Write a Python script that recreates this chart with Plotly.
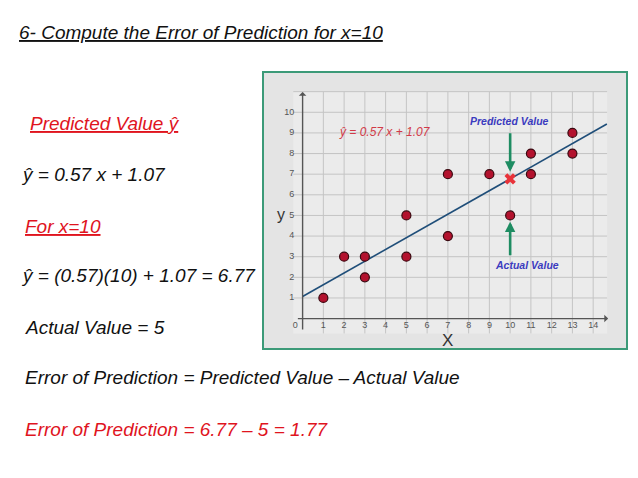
import plotly.graph_objects as go

W, H = 638, 478
OFF = 8  # page body margin

# ---- data ----
pts_x = [1, 2, 3, 3, 5, 5, 7, 7, 9, 10, 11, 11, 13, 13]
pts_y = [1, 3, 3, 2, 5, 3, 7, 4, 7, 5, 8, 7, 9, 8]
line_x = [0, 14.66]
line_y = [1.07, 9.43]
pred_x = [10]
pred_y = [6.77]
x_ticks = list(range(0, 15))
y_ticks = list(range(1, 11))
grid_x = list(range(1, 15))
grid_y = list(range(1, 12))

# ---- layout geometry (px, in screenshot coordinates) ----
box_l, box_r, box_t, box_b = 263, 627, 72, 349
x_range = [-1.908, 15.63]
y_range = [-1.474, 11.953]

def px(x):
    return (x - OFF) / W

def py(y):
    return 1 - (y - OFF) / H

fig = go.Figure()

# lighter grid area
fig.add_shape(type="rect", xref="x", yref="y", x0=-0.45, x1=14.67, y0=-0.72, y1=11.0,
              fillcolor="#ebebeb", line=dict(width=0), layer="below")

# grid lines
gx, gy = [], []
for v in grid_x:
    gx += [v, v, None]
    gy += [-0.72, 11.0, None]
for v in grid_y:
    gx += [-0.45, 14.67, None]
    gy += [v, v, None]
fig.add_trace(go.Scatter(x=gx, y=gy, mode="lines", line=dict(color="#c4c4c4", width=1),
                         hoverinfo="skip", showlegend=False))

# axes with arrows
fig.add_annotation(x=14.72, y=0, ax=-0.3, ay=0, xref="x", yref="y", axref="x", ayref="y",
                   showarrow=True, arrowhead=1, arrowsize=0.9, arrowwidth=1.4,
                   arrowcolor="#555555", text="")
fig.add_annotation(x=0, y=10.98, ax=0, ay=-0.6, xref="x", yref="y", axref="x", ayref="y",
                   showarrow=True, arrowhead=1, arrowsize=0.9, arrowwidth=1.4,
                   arrowcolor="#555555", text="")

# tick labels
fig.add_trace(go.Scatter(x=[t - 0.35 if t == 0 else t for t in x_ticks], y=[-0.33] * len(x_ticks),
                         mode="text", text=[str(t) for t in x_ticks],
                         textfont=dict(family="Liberation Sans", size=9, color="#555555"),
                         hoverinfo="skip", showlegend=False))
fig.add_trace(go.Scatter(x=[-0.4] * len(y_ticks), y=y_ticks, mode="text",
                         text=[str(t) for t in y_ticks], textposition="middle left",
                         textfont=dict(family="Liberation Sans", size=9, color="#555555"),
                         hoverinfo="skip", showlegend=False))

# regression line
fig.add_trace(go.Scatter(x=line_x, y=line_y, mode="lines", line=dict(color="#1f4e79", width=1.6),
                         hoverinfo="skip", showlegend=False))

# data points
fig.add_trace(go.Scatter(x=pts_x, y=pts_y, mode="markers",
                         marker=dict(size=9, color="#b3122e", line=dict(color="#3a0810", width=1.2)),
                         showlegend=False))

# green arrows
fig.add_annotation(x=10, y=7.12, ax=10, ay=9.06, xref="x", yref="y", axref="x", ayref="y",
                   showarrow=True, arrowhead=2, arrowsize=0.8, arrowwidth=2.6,
                   arrowcolor="#1e8c62", text="")
fig.add_annotation(x=10, y=4.7, ax=10, ay=3.0, xref="x", yref="y", axref="x", ayref="y",
                   showarrow=True, arrowhead=2, arrowsize=0.8, arrowwidth=2.6,
                   arrowcolor="#1e8c62", text="")

# predicted point X
fig.add_trace(go.Scatter(x=pred_x, y=pred_y, mode="markers",
                         marker=dict(symbol="x", size=10, color="#e8333a", line=dict(width=0)),
                         showlegend=False))

# in-chart labels
fig.add_annotation(x=3.97, y=9.06, xref="x", yref="y", showarrow=False,
                   text="<i>ŷ = 0.57 x + 1.07</i>",
                   font=dict(family="Liberation Sans", size=12, color="#d23a48"))
fig.add_annotation(x=9.99, y=9.56, xref="x", yref="y", showarrow=False,
                   text="<b><i>Predicted Value</i></b>",
                   font=dict(family="Liberation Sans", size=10.5, color="#3b3bbf"))
fig.add_annotation(x=10.8, y=2.6, xref="x", yref="y", showarrow=False,
                   text="<b><i>Actual Value</i></b>",
                   font=dict(family="Liberation Sans", size=10.5, color="#3b3bbf"))
fig.add_annotation(x=7, y=-1.05, xref="x", yref="y", showarrow=False, text="X",
                   font=dict(family="Liberation Sans", size=17, color="#333333"))
fig.add_annotation(x=-1.06, y=5.07, xref="x", yref="y", showarrow=False, text="y",
                   font=dict(family="Liberation Sans", size=16, color="#333333"))

# green border
fig.add_shape(type="rect", xref="paper", yref="paper",
              x0=px(box_l), x1=px(box_r), y0=py(box_b), y1=py(box_t),
              line=dict(color="#3c9a78", width=2), layer="above")

# left text
TF = "Liberation Sans"
left_texts = [
    ("<u><i>6- Compute the Error of Prediction for x=10</i></u>", 17, 32.7, "#111111", 19),
    ("<u><i>Predicted Value ŷ</i></u>", 28, 123, "#e0141e", 19),
    ("<i>ŷ = 0.57 x + 1.07</i>", 19, 174, "#111111", 19),
    ("<u><i>For x=10</i></u>", 23, 226, "#e0141e", 19),
    ("<i>ŷ = (0.57)(10) + 1.07 = 6.77</i>", 19, 275, "#111111", 19),
    ("<i>Actual Value = 5</i>", 23, 327, "#111111", 19),
    ("<i>Error of Prediction = Predicted Value – Actual Value</i>", 23, 377, "#111111", 19),
    ("<i>Error of Prediction = 6.77 – 5 = 1.77</i>", 23, 429, "#e0141e", 19),
]
for txt, lx, cy, col, fs in left_texts:
    fig.add_annotation(x=px(lx), y=py(cy), xref="paper", yref="paper", xanchor="left",
                       yanchor="middle", showarrow=False, text=txt,
                       font=dict(family=TF, size=fs, color=col))

fig.update_layout(
    width=W, height=H,
    margin=dict(l=0, r=0, t=0, b=0),
    paper_bgcolor="white",
    plot_bgcolor="#e4e4e4",
    xaxis=dict(range=x_range, visible=False, domain=[px(box_l), px(box_r)], fixedrange=True),
    yaxis=dict(range=y_range, visible=False, domain=[py(box_b), py(box_t)], fixedrange=True),
    showlegend=False,
)

fig.write_html("out.html")
